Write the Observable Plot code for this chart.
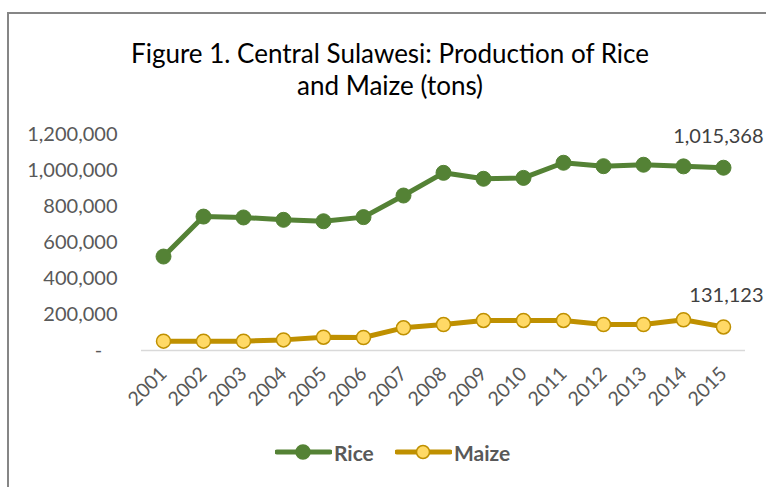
<!DOCTYPE html>
<html>
<head>
<meta charset="utf-8">
<script src="https://cdn.jsdelivr.net/npm/d3@7"></script>
<script src="https://cdn.jsdelivr.net/npm/@observablehq/plot@0.6"></script>
<style>
  html, body { margin: 0; padding: 0; background: #fff; }
  #wrap { position: relative; width: 766px; height: 487px; overflow: hidden; font-family: Lato, "Open Sans", sans-serif; }
  #frame { position: absolute; left: 7px; top: 12px; width: 800px; height: 500px; border-left: 2.5px solid #868686; border-top: 2.5px solid #868686; }
  #title { position: absolute; left: 0; top: 37px; width: 780px; text-align: center; font-size: 26px; line-height: 32px; color: #000; }
  #chart { position: absolute; left: 0; top: 110px; }
  #legend { position: absolute; left: 0; top: 438px; width: 766px; height: 28px; }
  #legend .item { position: absolute; top: 0; height: 28px; display: flex; align-items: center; }
  #legend .lab { font-weight: bold; font-size: 21px; color: #595959; margin-left: 2px; }
</style>
</head>
<body>
<div id="wrap">
  <div id="frame"></div>
  <div id="title"></div>
  <div id="chart"></div>
  <div id="legend"></div>
</div>
<script>
const titleLines = ["Figure 1. Central Sulawesi: Production of Rice", "and Maize (tons)"];
const years = ["2001","2002","2003","2004","2005","2006","2007","2008","2009","2010","2011","2012","2013","2014","2015"];
const rice  = [522000, 744000, 739000, 726000, 718000, 741000, 861000, 987000, 954000, 959000, 1043000, 1024000, 1032000, 1023000, 1015368];
const maize = [52000, 52000, 52000, 59000, 74000, 72000, 126000, 144000, 167000, 167000, 167000, 144000, 144000, 171000, 131123];
const seriesNames = ["Rice", "Maize"];
const seriesColors = ["#548235", "#BF9000"];
const maizeMarkerFill = "#FFD966";
const yTicks = [0, 200000, 400000, 600000, 800000, 1000000, 1200000];

document.getElementById("title").innerHTML = titleLines.join("<br>");

const riceData = years.map((y, i) => ({year: y, value: rice[i], series: seriesNames[0]}));
const maizeData = years.map((y, i) => ({year: y, value: maize[i], series: seriesNames[1]}));
const lastPoints = [riceData[riceData.length - 1], maizeData[maizeData.length - 1]];
const fmt = d3.format(",");

const chart = Plot.plot({
  width: 766,
  height: 320,
  marginLeft: 141,
  marginRight: 21,
  marginTop: 24,
  marginBottom: 80,
  style: {fontFamily: "Lato, 'Open Sans', sans-serif", fontSize: "20px", color: "#595959", background: "transparent", overflow: "visible"},
  x: {type: "band", domain: years, padding: 0},
  y: {domain: [0, 1200000]},
  marks: [
    Plot.ruleY([0], {stroke: "#d9d9d9", strokeWidth: 1.5}),
    Plot.axisY({ticks: yTicks, tickSize: 0, tickPadding: 24, label: null, fontSize: 20,
      tickFormat: d => d === 0 ? "-\u00a0\u00a0\u00a0" : fmt(d)}),
    Plot.axisX({tickRotate: -45, tickSize: 0, tickPadding: 20, label: null, fontSize: 19.5}),
    Plot.lineY(riceData, {x: "year", y: "value", stroke: seriesColors[0], strokeWidth: 5, strokeLinejoin: "round"}),
    Plot.dot(riceData, {x: "year", y: "value", r: 7.5, fill: seriesColors[0], stroke: seriesColors[0], strokeWidth: 1}),
    Plot.lineY(maizeData, {x: "year", y: "value", stroke: seriesColors[1], strokeWidth: 5, strokeLinejoin: "round"}),
    Plot.dot(maizeData, {x: "year", y: "value", r: 7, fill: maizeMarkerFill, stroke: seriesColors[1], strokeWidth: 1.5}),
    Plot.text(lastPoints, {x: "year", y: "value", text: d => fmt(d.value), textAnchor: "end", lineAnchor: "bottom", dx: 40, dy: -25, fontSize: 20, fill: "#404040"})
  ]
});
document.getElementById("chart").appendChild(chart);

// legend
const legend = document.getElementById("legend");
const legendX = [275, 395];
seriesNames.forEach((name, i) => {
  const item = document.createElement("div");
  item.className = "item";
  item.style.left = legendX[i] + "px";
  const ns = "http://www.w3.org/2000/svg";
  const sw = document.createElementNS(ns, "svg");
  sw.setAttribute("width", 57); sw.setAttribute("height", 28);
  const ln = document.createElementNS(ns, "line");
  ln.setAttribute("x1", 2); ln.setAttribute("x2", 55); ln.setAttribute("y1", 14); ln.setAttribute("y2", 14);
  ln.setAttribute("stroke", seriesColors[i]); ln.setAttribute("stroke-width", 5); ln.setAttribute("stroke-linecap", "round");
  const c = document.createElementNS(ns, "circle");
  c.setAttribute("cx", 28); c.setAttribute("cy", 14); c.setAttribute("r", i === 0 ? 7 : 6.5);
  c.setAttribute("fill", i === 0 ? seriesColors[0] : maizeMarkerFill);
  c.setAttribute("stroke", seriesColors[i]); c.setAttribute("stroke-width", 1.5);
  sw.appendChild(ln); sw.appendChild(c);
  const lab = document.createElement("span");
  lab.className = "lab"; lab.textContent = name;
  item.appendChild(sw); item.appendChild(lab);
  legend.appendChild(item);
});
</script>
</body>
</html>
